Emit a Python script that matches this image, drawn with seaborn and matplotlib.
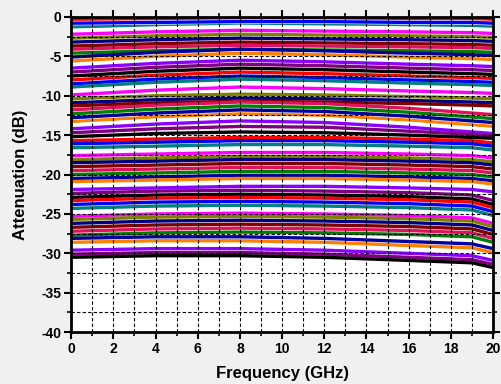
import matplotlib
matplotlib.use("Agg")
import matplotlib.pyplot as plt
from matplotlib.ticker import MultipleLocator
import seaborn as sns
import pandas as pd

# Frequency sample points (GHz)
freq_ghz = [0, 4, 8, 12, 16, 19, 20]

# Attenuation (dB) for each of the 64 attenuator states, read at freq_ghz
state_attenuation_db = [
    [-0.3, -0.2, -0.1, -0.1, -0.2, -0.2, -0.3],
    [-0.8, -0.7, -0.6, -0.6, -0.7, -0.7, -0.8],
    [-1.3, -1.2, -1.1, -1.1, -1.2, -1.2, -1.3],
    [-1.7, -1.4, -1.2, -1.3, -1.4, -1.5, -1.6],
    [-2.2, -1.9, -1.7, -1.8, -1.9, -2.0, -2.1],
    [-2.7, -2.4, -2.2, -2.3, -2.4, -2.5, -2.6],
    [-3.2, -2.9, -2.7, -2.8, -2.9, -3.0, -3.1],
    [-3.7, -3.4, -3.2, -3.3, -3.4, -3.5, -3.6],
    [-4.1, -3.8, -3.6, -3.7, -3.8, -3.9, -4.0],
    [-4.6, -4.3, -4.1, -4.2, -4.3, -4.4, -4.5],
    [-5.1, -4.5, -4.1, -4.3, -4.6, -4.8, -4.9],
    [-5.6, -5.0, -4.6, -4.8, -5.1, -5.3, -5.4],
    [-6.1, -5.5, -5.1, -5.3, -5.6, -5.8, -5.9],
    [-6.5, -5.9, -5.5, -5.7, -6.0, -6.2, -6.3],
    [-7.0, -6.4, -6.0, -6.2, -6.5, -6.7, -6.8],
    [-7.5, -6.9, -6.5, -6.7, -7.0, -7.2, -7.3],
    [-8.0, -7.4, -7.0, -7.2, -7.5, -7.7, -7.8],
    [-8.5, -7.9, -7.5, -7.7, -8.0, -8.2, -8.3],
    [-8.9, -8.3, -7.9, -8.1, -8.4, -8.6, -8.7],
    [-9.4, -8.8, -8.4, -8.6, -8.9, -9.1, -9.2],
    [-9.9, -9.3, -8.9, -9.1, -9.4, -9.6, -9.7],
    [-10.4, -10.0, -9.8, -9.9, -10.1, -10.3, -10.4],
    [-10.9, -10.5, -10.3, -10.4, -10.6, -10.8, -10.9],
    [-11.3, -10.9, -10.7, -10.8, -11.0, -11.2, -11.3],
    [-11.8, -11.2, -10.8, -11.0, -11.6, -12.2, -12.4],
    [-12.3, -11.7, -11.3, -11.5, -12.1, -12.7, -12.9],
    [-12.8, -12.2, -11.8, -12.0, -12.6, -13.2, -13.4],
    [-13.3, -12.7, -12.3, -12.5, -13.1, -13.7, -13.9],
    [-13.7, -13.1, -12.7, -12.9, -13.5, -14.1, -14.3],
    [-14.2, -13.6, -13.2, -13.4, -14.0, -14.6, -14.8],
    [-14.7, -14.2, -13.9, -14.0, -14.5, -14.9, -15.1],
    [-15.2, -14.8, -14.6, -14.7, -15.0, -15.3, -15.4],
    [-15.7, -15.5, -15.3, -15.3, -15.5, -15.7, -16.0],
    [-16.1, -15.9, -15.7, -15.7, -15.9, -16.1, -16.4],
    [-16.6, -16.4, -16.2, -16.2, -16.4, -16.6, -16.9],
    [-17.1, -16.9, -16.7, -16.7, -16.9, -17.1, -17.4],
    [-17.6, -17.4, -17.2, -17.2, -17.4, -17.6, -17.9],
    [-18.1, -17.9, -17.7, -17.7, -17.9, -18.1, -18.4],
    [-18.5, -18.3, -18.1, -18.1, -18.3, -18.5, -18.8],
    [-19.0, -18.8, -18.6, -18.6, -18.8, -19.0, -19.3],
    [-19.5, -19.3, -19.1, -19.1, -19.3, -19.5, -19.8],
    [-20.0, -19.8, -19.6, -19.6, -19.8, -20.0, -20.3],
    [-20.5, -20.3, -20.1, -20.1, -20.3, -20.5, -20.8],
    [-20.9, -20.7, -20.5, -20.5, -20.7, -20.9, -21.2],
    [-21.4, -21.2, -21.0, -21.0, -21.2, -21.4, -21.7],
    [-21.9, -21.7, -21.5, -21.5, -21.7, -21.9, -22.2],
    [-22.4, -22.1, -22.0, -22.1, -22.3, -22.6, -23.3],
    [-22.9, -22.6, -22.5, -22.6, -22.8, -23.1, -23.8],
    [-23.3, -23.0, -22.9, -23.0, -23.2, -23.5, -24.2],
    [-23.8, -23.5, -23.4, -23.5, -23.7, -24.0, -24.7],
    [-24.3, -24.0, -23.9, -24.0, -24.2, -24.5, -25.2],
    [-24.8, -24.5, -24.4, -24.5, -24.7, -25.0, -25.7],
    [-25.3, -25.0, -24.9, -25.0, -25.2, -25.5, -26.2],
    [-25.7, -25.4, -25.3, -25.4, -25.6, -25.9, -26.6],
    [-26.2, -25.9, -25.8, -25.9, -26.1, -26.4, -27.1],
    [-26.7, -26.4, -26.3, -26.4, -26.6, -26.9, -27.6],
    [-27.2, -26.9, -26.8, -26.9, -27.1, -27.4, -28.1],
    [-27.7, -27.4, -27.3, -27.4, -27.6, -27.9, -28.6],
    [-28.1, -27.9, -27.9, -28.1, -28.5, -28.8, -29.4],
    [-28.6, -28.4, -28.4, -28.6, -29.0, -29.3, -29.9],
    [-29.1, -28.9, -28.9, -29.1, -29.5, -29.8, -30.4],
    [-29.6, -29.4, -29.4, -29.6, -30.0, -30.3, -30.9],
    [-30.1, -29.9, -29.9, -30.1, -30.5, -30.8, -31.4],
    [-30.5, -30.3, -30.3, -30.5, -30.9, -31.2, -31.8],
]

# Colour cycle of the curves (16 colours, repeated)
color_cycle = ['#FF0000', '#0000FF', '#008080', '#FFFFFF', '#FF00FF', '#808000',
               '#000080', '#800000', '#E0115F', '#008000', '#0000A0', '#FF8000',
               '#FFFFFF', '#8B00FF', '#800080', '#000000']

x_ticks = [0, 2, 4, 6, 8, 10, 12, 14, 16, 18, 20]
y_ticks = [0, -5, -10, -15, -20, -25, -30, -35, -40]

state_names = [f"S{i:02d}" for i in range(len(state_attenuation_db))]
rows = []
for name, vals in zip(state_names, state_attenuation_db):
    for f, v in zip(freq_ghz, vals):
        rows.append({"state": name, "freq": f, "att": v})
df = pd.DataFrame(rows)
palette = {name: color_cycle[i % len(color_cycle)] for i, name in enumerate(state_names)}

plt.rcParams['font.family'] = ['Liberation Sans', 'DejaVu Sans']
plt.rcParams['font.weight'] = 'bold'
plt.rcParams['axes.unicode_minus'] = False

fig = plt.figure(figsize=(5.01, 3.84), dpi=100)
fig.patch.set_facecolor('#F0F0F0')
ax = fig.add_axes([0.142, 0.135, 0.842, 0.821])
ax.set_facecolor('white')

sns.lineplot(data=df, x="freq", y="att", hue="state", hue_order=state_names,
             palette=palette, legend=False, linewidth=2.4, ax=ax, estimator=None)

ax.set_xlim(0, 20)
ax.set_ylim(-40, 0)
ax.set_xticks(x_ticks)
ax.set_yticks(y_ticks)
ax.xaxis.set_minor_locator(MultipleLocator(1))
ax.yaxis.set_minor_locator(MultipleLocator(2.5))

ax.set_axisbelow(False)
ax.grid(True, which='both', color='black', linestyle=(0, (3, 2)), linewidth=0.8)

for sp in ax.spines.values():
    sp.set_linewidth(2.0)
    sp.set_color('black')
    sp.set_zorder(5)

ax.tick_params(which='major', direction='out', length=5, width=1.5,
               top=True, right=True, labelsize=10, pad=2)
ax.tick_params(which='minor', direction='out', length=3, width=1.2,
               top=True, right=True)
for lab in ax.get_xticklabels() + ax.get_yticklabels():
    lab.set_fontweight('bold')

ax.set_xlabel("Frequency (GHz)", fontsize=12, fontweight='bold', labelpad=7)
ax.set_ylabel("Attenuation (dB)", fontsize=12, fontweight='bold', labelpad=10)

fig.savefig("out.png", dpi=100, facecolor=fig.get_facecolor())
